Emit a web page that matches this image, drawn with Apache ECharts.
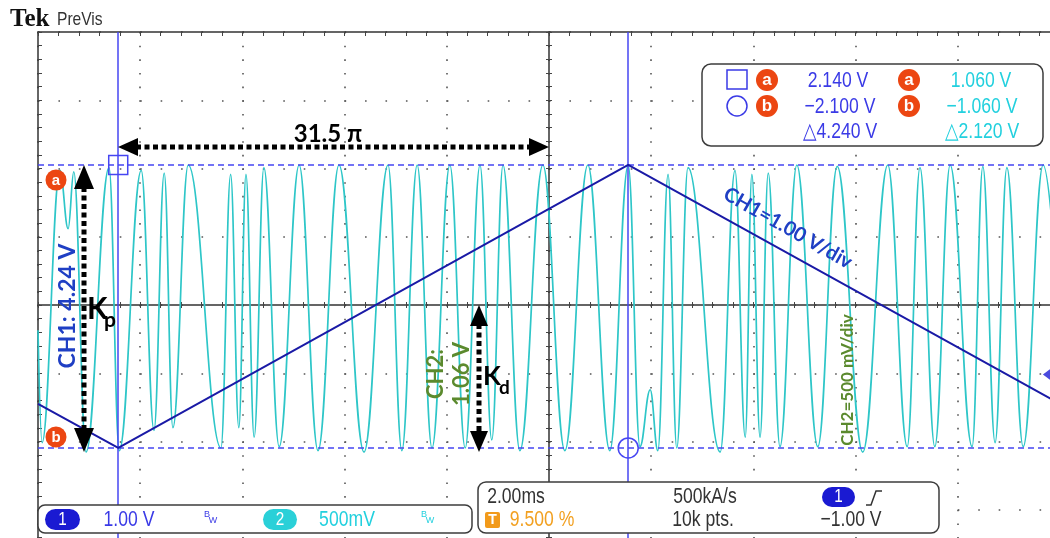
<!DOCTYPE html>
<html>
<head>
<meta charset="utf-8">
<script src="https://cdn.jsdelivr.net/npm/echarts@6/dist/echarts.min.js"></script>
<style>
  html, body { margin: 0; padding: 0; background: #fff; overflow: hidden; width: 1050px; height: 538px; }
  /* the graticule runs past the visible window on the right and bottom */
  #c { width: 1072px; height: 590px; }
</style>
</head>
<body>
<div id="c"></div>
<script>
// Horizontal scale: 2.00 ms/div, 10 divisions, time in ms from the screen centre
const timeRange = [-10, 10];

// CH1 (1.00 V/div): triangle ramp vertices
const ch1Time = [-10, -8.43, 1.55, 10];
const ch1Volt = [-1.44, -2.10, 2.14, -1.44];

// CH2 (500 mV/div): turning points of the interference signal
const ch2Time = [-10.00, -9.92, -9.57, -9.41, -9.30, -9.06, -8.61, -8.41, -7.98, -7.73,
  -7.53, -7.36, -7.06, -6.42, -6.23, -6.07, -5.93, -5.77, -5.58, -5.28,
  -4.89, -4.52, -4.11, -3.62, -3.15, -2.88, -2.58, -2.29, -1.94, -1.64,
  -1.35, -1.12, -0.90, -0.57, -0.12, 0.31, 0.76, 1.19, 1.55, 1.78,
  1.98, 2.13, 2.33, 2.50, 2.72, 3.35, 3.64, 3.84, 3.97, 4.13,
  4.29, 4.52, 4.85, 5.26, 5.64, 6.14, 6.63, 7.01, 7.26, 7.55,
  7.85, 8.28, 8.49, 8.73, 8.96, 9.28, 9.67, 10.00];
const ch2Volt = [-0.16, -0.99, 1.02, 0.59, 1.01, -1.06, 1.04, -1.05, 1.02, -0.90,
  1.00, -0.88, 1.06, -1.03, 0.99, -0.88, 0.99, -0.95, 1.04, -1.02,
  1.06, -1.05, 1.06, -1.06, 1.06, -1.05, 1.06, -1.03, 1.06, -1.03,
  1.06, -0.97, 1.06, -1.05, 1.06, -1.05, 1.06, -1.05, 1.06, -1.02,
  -0.60, -1.05, 0.99, -1.03, 1.04, -1.06, 1.02, -0.95, 0.99, -0.95,
  1.00, -1.02, 1.06, -1.02, 1.05, -1.06, 1.06, -1.02, 1.04, -1.02,
  1.06, -1.02, 1.05, -0.99, 1.04, -1.02, 1.06, -0.16];

// Cursors: two vertical (time) and two horizontal (a / b levels)
const cursorTime = [-8.43, 1.55];
const cursorCh1 = [2.14, -2.10];
const cursorCh2 = [1.06, -1.06];

// Trigger: CH1, rising edge, -1.00 V
const triggerLevel = -1.00;
const triggerMarkTime = 9.9;

// Readout strings
const ch1Scale = '1.00 V';
const ch2Scale = '500mV';
const timeScale = '2.00ms';
const sampleRate = '500kA/s';
const recordLength = '10k pts.';
const triggerPos = '9.500 %';

const fmtV = v => (v < 0 ? '\u2212' : '') + Math.abs(v).toFixed(3) + ' V';
const fmtV2 = v => (v < 0 ? '\u2212' : '') + Math.abs(v).toFixed(2) + ' V';

const zip = (a, b) => a.map((x, i) => [x, b[i]]);

const BLUE_TRACE = '#1a1aa6';
const CYAN = '#2ec6c8';
const CURSOR = '#4646f2';
const READ_BLUE = '#3a3ae6';
const READ_CYAN = '#22d0de';
const DOT = '#555';
const GREEN = '#5b8a2e';
const ANN_BLUE = '#1f3fc4';
const NARROW = 'Liberation Sans, Arial, sans-serif';
const ANN_FONT = 'Lato, "Open Sans", sans-serif';

const chart = echarts.init(document.getElementById('c'), null, { renderer: 'canvas' });

// Graticule pitch: 102.2 px per horizontal division, 68.25 px per vertical division
const G_LEFT = 38, G_TOP = 32, G_W = 1022, G_H = 546;

const hidden = { show: false };
const tickStyle = { color: '#444', width: 1 };

const xAxes = [
  { // top border with inward minor ticks + dotted vertical graticule lines
    type: 'value', min: timeRange[0], max: timeRange[1], interval: 2, position: 'top',
    axisLine: { show: true, onZero: false, lineStyle: { color: '#333', width: 1.5 } },
    axisTick: { show: true, inside: true, length: 4, lineStyle: tickStyle },
    minorTick: { show: true, splitNumber: 5, length: 4, lineStyle: tickStyle },
    splitLine: { show: true, lineStyle: { color: DOT, width: 1.6, type: [1.6, 12.05] } },
    axisLabel: hidden
  },
  { // centre horizontal line, ticks downward
    type: 'value', min: timeRange[0], max: timeRange[1], interval: 2, position: 'bottom',
    axisLine: { show: true, onZero: true, onZeroAxisIndex: 0, lineStyle: { color: '#333', width: 1.5 } },
    axisTick: { show: true, inside: false, length: 3, lineStyle: tickStyle },
    minorTick: { show: true, splitNumber: 5, length: 3, lineStyle: tickStyle },
    splitLine: hidden, axisLabel: hidden
  },
  { // centre horizontal line, ticks upward
    type: 'value', min: timeRange[0], max: timeRange[1], interval: 2, position: 'top',
    axisLine: { show: false, onZero: true, onZeroAxisIndex: 0 },
    axisTick: { show: true, inside: false, length: 3, lineStyle: tickStyle },
    minorTick: { show: true, splitNumber: 5, length: 3, lineStyle: tickStyle },
    splitLine: hidden, axisLabel: hidden
  }
];

const yAxes = [
  { // left border with inward minor ticks + dotted horizontal graticule lines
    type: 'value', min: -4, max: 4, interval: 1, position: 'left',
    axisLine: { show: true, onZero: false, lineStyle: { color: '#333', width: 1.5 } },
    axisTick: { show: true, inside: true, length: 4, lineStyle: tickStyle },
    minorTick: { show: true, splitNumber: 5, length: 4, lineStyle: tickStyle },
    splitLine: { show: true, lineStyle: { color: DOT, width: 1.6, type: [1.6, 18.84] } },
    axisLabel: hidden
  },
  { // CH1 volts
    type: 'value', min: -4.048, max: 4.132, show: false
  },
  { // CH2 volts
    type: 'value', min: -1.99, max: 2.042, show: false
  },
  { // centre vertical line, ticks left
    type: 'value', min: -4, max: 4, interval: 1, position: 'left',
    axisLine: { show: true, onZero: true, onZeroAxisIndex: 0, lineStyle: { color: '#333', width: 1.5 } },
    axisTick: { show: true, inside: false, length: 3, lineStyle: tickStyle },
    minorTick: { show: true, splitNumber: 5, length: 3, lineStyle: tickStyle },
    splitLine: hidden, axisLabel: hidden
  },
  { // centre vertical line, ticks right
    type: 'value', min: -4, max: 4, interval: 1, position: 'right',
    axisLine: { show: false, onZero: true, onZeroAxisIndex: 0 },
    axisTick: { show: true, inside: false, length: 3, lineStyle: tickStyle },
    minorTick: { show: true, splitNumber: 5, length: 3, lineStyle: tickStyle },
    splitLine: hidden, axisLabel: hidden
  }
];

const series = [
  {
    name: 'CH2', type: 'line', xAxisIndex: 0, yAxisIndex: 2,
    data: zip(ch2Time, ch2Volt),
    smooth: 0.4, smoothMonotone: 'x', showSymbol: false, symbol: 'none',
    lineStyle: { color: CYAN, width: 1.7 }, z: 3, silent: true
  },
  {
    name: 'CH1', type: 'line', xAxisIndex: 0, yAxisIndex: 1,
    data: zip(ch1Time, ch1Volt),
    showSymbol: false, symbol: 'none',
    lineStyle: { color: BLUE_TRACE, width: 2 }, z: 5, silent: true,
    markLine: {
      silent: true, symbol: 'none', label: { show: false }, animation: false,
      data: [
        { xAxis: cursorTime[0], lineStyle: { color: CURSOR, width: 1.5, type: 'solid' } },
        { xAxis: cursorTime[1], lineStyle: { color: CURSOR, width: 1.5, type: 'solid' } },
        { yAxis: cursorCh1[0], lineStyle: { color: CURSOR, width: 1.5, type: [6, 4] } },
        { yAxis: cursorCh1[1], lineStyle: { color: CURSOR, width: 1.5, type: [6, 4] } }
      ]
    },
    markPoint: {
      silent: true, label: { show: false }, animation: false,
      data: [
        { coord: [cursorTime[0], cursorCh1[0]], symbol: 'rect', symbolSize: 19,
          itemStyle: { color: 'rgba(0,0,0,0)', borderColor: CURSOR, borderWidth: 1.5 } },
        { coord: [cursorTime[1], cursorCh1[1]], symbol: 'circle', symbolSize: 20,
          itemStyle: { color: 'rgba(0,0,0,0)', borderColor: CURSOR, borderWidth: 1.5 } }
      ]
    }
  },
  {
    name: 'trigger', type: 'scatter', xAxisIndex: 0, yAxisIndex: 1,
    data: [[triggerMarkTime, triggerLevel]], symbol: 'diamond', symbolSize: [24, 18],
    itemStyle: { color: '#1d1dd6' }, z: 6, silent: true
  }
];

// ---- annotation graphics ----
const G = [];
function txt(x, y, text, o) {
  G.push({
    type: 'text', x, y, rotation: o.rot || 0, scaleX: o.sx || 1, z: o.z || 120, silent: true,
    style: { text, fill: o.fill || '#000', font: o.font, align: o.align || 'center', verticalAlign: o.va || 'middle' }
  });
}
function head(tx, ty, ux, uy, len, half) {
  const nx = -uy, ny = ux;
  G.push({ type: 'polygon', z: 111, silent: true,
    shape: { points: [[tx, ty], [tx + ux * len + nx * half, ty + uy * len + ny * half], [tx + ux * len - nx * half, ty + uy * len - ny * half]] },
    style: { fill: '#000' } });
}
function dotArrow(x1, y1, x2, y2, len, half) {
  const dx = x2 - x1, dy = y2 - y1, L = Math.hypot(dx, dy), ux = dx / L, uy = dy / L;
  G.push({ type: 'line', z: 110, silent: true,
    shape: { x1: x1 + ux * (len - 2), y1: y1 + uy * (len - 2), x2: x2 - ux * (len - 2), y2: y2 - uy * (len - 2) },
    style: { stroke: '#000', lineWidth: 5, lineDash: [5, 3.5] } });
  head(x1, y1, ux, uy, len, half);
  head(x2, y2, -ux, -uy, len, half);
}
function badge(cx, cy, r, letter, fs) {
  G.push({ type: 'circle', z: 121, silent: true, shape: { cx, cy, r }, style: { fill: '#ec4612' } });
  txt(cx, cy + 0.5, letter, { fill: '#fff', font: 'bold ' + fs + 'px ' + NARROW, z: 122 });
}
function box(x, y, w, h, r) {
  G.push({ type: 'rect', z: 115, silent: true, shape: { x, y, width: w, height: h, r },
    style: { fill: '#fff', stroke: '#3c3c3c', lineWidth: 1.5 } });
}
function pill(x, y, w, h, fill, label) {
  G.push({ type: 'rect', z: 121, silent: true, shape: { x, y, width: w, height: h, r: h / 2 }, style: { fill } });
  txt(x + w / 2, y + h / 2 + 0.5, label, { fill: '#fff', font: '18px ' + NARROW, sx: 0.85, z: 122 });
}
function bw(x, y, fill) {
  txt(x, y, 'B', { fill, font: '9px ' + NARROW, z: 122 });
  txt(x + 6, y + 6, 'W', { fill, font: '9px ' + NARROW, z: 122 });
}

// Title
txt(10, 20, 'Tek', { font: 'bold 25px "Liberation Serif", "DejaVu Serif", serif', align: 'left', fill: '#111' });
txt(57, 20, 'PreVis', { font: '19px ' + NARROW, align: 'left', fill: '#333', sx: 0.82 });

// cursor level badges at the left edge
badge(56, 180, 10.5, 'a', 15);
badge(56, 437, 10.5, 'b', 15);

// Phase span between cursor 1 and the centre line
dotArrow(118, 147, 549, 147, 20, 9);
txt(328, 134, '31.5 \u03c0', { font: 'bold 24px ' + ANN_FONT, fill: '#000' });

// Kp: CH1 span between the cursors
dotArrow(84, 165, 84, 452, 24, 10);
txt(68, 306, 'CH1: ' + fmtV2(cursorCh1[0] - cursorCh1[1]), { font: 'bold 23px ' + ANN_FONT, fill: ANN_BLUE, rot: Math.PI / 2 });
txt(87, 309, 'K', { font: 'bold 30px ' + ANN_FONT, align: 'left' });
txt(104, 320, 'p', { font: 'bold 21px ' + ANN_FONT, align: 'left' });

// Kd: CH2 amplitude
dotArrow(479, 305, 479, 452, 21, 9);
txt(436, 374, 'CH2:', { font: 'bold 22px ' + ANN_FONT, fill: GREEN, rot: Math.PI / 2 });
txt(462, 374, fmtV2(cursorCh2[0]), { font: 'bold 22px ' + ANN_FONT, fill: GREEN, rot: Math.PI / 2 });
txt(483, 377, 'K', { font: 'bold 26px ' + ANN_FONT, align: 'left' });
txt(499, 388, 'd', { font: 'bold 19px ' + ANN_FONT, align: 'left' });

// Scale notes on the traces (set just above the CH1 ramp)
txt(788, 228, 'CH1=1.00 V/div', { font: 'bold 20px ' + ANN_FONT, fill: ANN_BLUE, rot: -0.515 });
txt(848, 380, 'CH2=500 mV/div', { font: 'bold 17px ' + ANN_FONT, fill: GREEN, rot: Math.PI / 2 });

// Cursor readout
box(702, 64, 341, 82, 9);
G.push({ type: 'rect', z: 121, silent: true, shape: { x: 727, y: 70, width: 20, height: 19 }, style: { fill: 'none', stroke: READ_BLUE, lineWidth: 1.5 } });
G.push({ type: 'circle', z: 121, silent: true, shape: { cx: 737, cy: 106, r: 10 }, style: { fill: 'none', stroke: READ_BLUE, lineWidth: 1.5 } });
badge(767, 80, 11, 'a', 17);
badge(767, 106, 11, 'b', 17);
badge(909, 80, 11, 'a', 17);
badge(909, 106, 11, 'b', 17);
const RF = '22px ' + NARROW;
txt(838, 81, fmtV(cursorCh1[0]), { font: RF, fill: READ_BLUE, sx: 0.8 });
txt(840, 107, fmtV(cursorCh1[1]), { font: RF, fill: READ_BLUE, sx: 0.8 });
txt(840, 132, '\u25b3' + fmtV(cursorCh1[0] - cursorCh1[1]), { font: RF, fill: READ_BLUE, sx: 0.8 });
txt(981, 81, fmtV(cursorCh2[0]), { font: RF, fill: READ_CYAN, sx: 0.8 });
txt(982, 107, fmtV(cursorCh2[1]), { font: RF, fill: READ_CYAN, sx: 0.8 });
txt(982, 132, '\u25b3' + fmtV(cursorCh2[0] - cursorCh2[1]), { font: RF, fill: READ_CYAN, sx: 0.8 });

// Channel readout
box(38, 505, 434, 28, 7);
pill(45, 509, 35, 21, '#1a1ad2', '1');
txt(129, 520, ch1Scale, { font: RF, fill: READ_BLUE, sx: 0.8 });
bw(207, 515, READ_BLUE);
pill(263, 509, 34, 21, '#2ad0d8', '2');
txt(347, 520, ch2Scale, { font: RF, fill: READ_CYAN, sx: 0.8 });
bw(424, 515, READ_CYAN);

// Horizontal / trigger readout
box(478, 482, 461, 51, 8);
txt(516, 497, timeScale, { font: RF, fill: '#333', sx: 0.8 });
txt(705, 497, sampleRate, { font: RF, fill: '#333', sx: 0.8 });
pill(822, 487, 33, 20, '#1a1ad2', '1');
G.push({ type: 'polyline', z: 121, silent: true, shape: { points: [[866, 505], [871, 505], [876, 491], [882, 491]] }, style: { stroke: '#333', lineWidth: 1.5, fill: null } });
G.push({ type: 'rect', z: 121, silent: true, shape: { x: 485, y: 512, width: 15, height: 16, r: 2 }, style: { fill: '#f29a1a' } });
txt(492.5, 520.5, 'T', { font: 'bold 14px ' + NARROW, fill: '#fff', z: 122 });
txt(542, 520, triggerPos, { font: RF, fill: '#f2a020', sx: 0.8 });
txt(703, 520, recordLength, { font: RF, fill: '#333', sx: 0.8 });
txt(851, 520, fmtV2(triggerLevel), { font: RF, fill: '#333', sx: 0.8 });

chart.setOption({
  animation: false,
  backgroundColor: '#ffffff',
  grid: { left: G_LEFT, top: G_TOP, width: G_W, height: G_H, show: false, containLabel: false },
  xAxis: xAxes,
  yAxis: yAxes,
  series,
  graphic: G
});
</script>
</body>
</html>
